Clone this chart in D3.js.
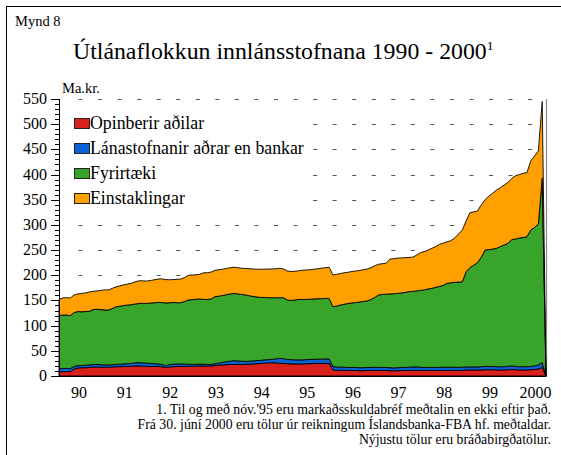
<!DOCTYPE html>
<html>
<head>
<meta charset="utf-8">
<script src="https://cdn.jsdelivr.net/npm/d3@7"></script>
<style>
  body { margin: 0; background: #fff; }
</style>
</head>
<body>
<svg id="chart" width="561" height="455"></svg>
<script>
// monthly values, Dec 1989 .. Aug 2000 (last point closes to 0)
const opinberir = [8.6,8.5,8.7,8.6,14,16,16.5,16.5,17,18,18,17.5,17.5,17.5,18,18.5,18.5,19,19,19.5,20,20,19.5,19.5,19,19,19,18.5,17,18,18.5,19,19,19,19.5,19.5,19.5,20,20,20,20,21,21.5,22,22.5,23,23,23,23,23,23.5,24,24.5,25,25.5,26,26.5,26,25,25,24.5,24,24,24,24,24.5,24.5,25,25,25,25,25,12,11.5,11.5,11,11,11,11,10.5,10.5,11,11,11,11,11,11,10.5,10.5,10.5,11,11,11,11.5,11.5,11,11,11,11,11,11,11,11,11,11,11,11.5,12,12,12,12,12,12.5,12.5,12.5,12,12,12,12.5,13,12.5,12,12,12,12.5,13,14,17,0]
const lanastofnanir = [6.4,6.5,6.3,6.2,5,4.5,4.5,5,5,5,5,5,4.5,4.5,4.5,4.5,5,5,5.5,5.5,6,6.5,6.5,6,6,5.5,5,4.5,3.5,4.5,5,5,5,4.5,4,3.5,3.5,3.5,3.5,3,3,3.5,4,5,6,6.5,7.5,7,6.5,6,6,6,6,6,6.5,6.5,6.5,8,10,9.5,8.5,8.5,8,8,8,8,8.5,8,8.5,8.5,9,9,6.5,6.5,6,6.5,6,6,6,6,6,6,6,6.5,6,6,6,6,5.5,6,6,6,6.5,6.5,6.5,6.5,6,6,6,6,6,6.5,6.5,6.5,6.5,6,6,6,6,6,6,6.5,6.5,6.5,6.5,6.5,6.5,6.5,6.5,7,6.5,6.5,6.5,6.5,6.5,7,8,9.5,0]
const fyrirtaeki = [105,106,106,105.2,107,107.5,106.5,106.5,106.5,109,109.5,109.5,109,109,111.5,114.5,115,116,116.5,116.5,117,117.5,118.5,118.5,120,121,122,123,124.5,123,122.5,121.5,121.6,124.5,127.5,128.5,129.5,129.5,128.5,129,130,133,133,133,133,133.5,133.5,133,132.5,132,130,128,126.5,125,124,123,122.5,121.5,120.5,121,118,117.5,119,120,120,119.5,119.5,120,120,120,120,120,119.2,121,123.5,125,127,128,129,130.5,131.5,132,135,138.5,144,145,145.5,146.5,147.5,147.5,148,149,150,150,151,152.5,154,155.7,157,159,161,162.5,166.5,167.5,168.5,169.5,169.5,189,197,202,207,217.5,231,232,233,235,238.5,241.5,244.4,251,253,255.5,256.5,258.1,271,275,280,366.1,0]
const einstaklingar = [32,34,34.5,35,35,35,36.5,37,38.5,36,36.5,38,40,40,40,39.5,40.5,41,41.5,42.5,44,45,44.5,44.5,44.5,45.5,46.5,47,46.5,45.5,45.5,46.5,47,47.5,49,49,48.5,49,53,53,53.5,52.5,52.5,52,52,52,52,52,52,52.5,53.5,54.5,55,56,56,57,57,57.5,58.5,57,57.5,57.5,57,57,58,58.5,58.5,59,59.5,60.5,61,62,62.8,63,62.5,62.5,62,62.5,62.5,62.5,63,63.5,63,63,61,61,61.5,69,69.5,70,69.5,69,68,68,71,75,76,77.3,79.5,81,83.5,84,82.5,83.7,88,95.5,103,100.8,109,106,102.6,104,100,106.4,111,115.8,117,119,121.1,121,125.8,126,127.4,127.4,137,142,145,152.4,0]

const seriesNames = ['Opinberir aðilar', 'Lánastofnanir aðrar en bankar', 'Fyrirtæki', 'Einstaklingar']
const seriesColors = ['#d8201c', '#0a64d8', '#38a52a', '#ffa000']
const yearLabels = ['90','91','92','93','94','95','96','97','98','99','2000']
const yTicks = [0,50,100,150,200,250,300,350,400,450,500,550]
const footnotes = [
  "1. Til og með nóv.'95 eru markaðsskuldabréf meðtalin en ekki eftir það.",
  "Frá 30. júní 2000 eru tölur úr reikningum Íslandsbanka-FBA hf. meðtaldar.",
  "Nýjustu tölur eru bráðabirgðatölur."
]

const serif = '"Liberation Serif", "Times New Roman", Times, serif'

var svg = d3.select('#chart')
   .attr('font-family', serif)

// outer frame (runs off the right and bottom of the picture)
svg.append('rect')
   .attr('x', 6.5).attr('y', 6.5)
   .attr('width', 600).attr('height', 500)
   .attr('fill', 'none').attr('stroke', '#000').attr('stroke-width', 1)

svg.append('text').attr('x', 15).attr('y', 26)
   .attr('font-family', serif).attr('font-size', 14.5).text('Mynd 8')

var title = svg.append('text').attr('x', 73).attr('y', 59)
   .attr('font-family', serif).attr('font-size', 23.8)
title.append('tspan').text('Útlánaflokkun innlánsstofnana 1990 - 2000')
title.append('tspan').attr('dy', -9).attr('font-size', 13.5).text('1')

svg.append('text').attr('x', 62).attr('y', 93)
   .attr('font-family', serif).attr('font-size', 14.5).text('Ma.kr.')

var x = d3.scaleLinear().domain([0, opinberir.length - 1]).range([59, 546])
var y = d3.scaleLinear().domain([0, 550]).range([376, 99])

// dashed grid
svg.append('g').selectAll('line')
   .data(yTicks.filter(d => d > 0))
   .enter().append('line')
   .attr('x1', 78.5).attr('x2', 546)
   .attr('y1', d => Math.round(y(d)) + 0.5).attr('y2', d => Math.round(y(d)) + 0.5)
   .attr('stroke', '#555').attr('stroke-width', 1)
   .attr('stroke-dasharray', '4,15.55')

// right frame of plot
svg.append('line')
   .attr('x1', 546.5).attr('x2', 546.5).attr('y1', y(550)).attr('y2', y(0))
   .attr('stroke', '#888').attr('stroke-width', 1.2)

var table = opinberir.map(function(v, i) {
  return { i: i, s0: v, s1: lanastofnanir[i], s2: fyrirtaeki[i], s3: einstaklingar[i] }
})
var stack = d3.stack().keys(['s0','s1','s2','s3'])
var layers = stack(table)

var area = d3.area()
  .x(d => x(d.data.i))
  .y0(d => y(d[0]))
  .y1(d => y(d[1]))

svg.append('g').selectAll('path')
   .data(layers)
   .enter().append('path')
   .attr('d', area)
   .attr('fill', (d, i) => seriesColors[i])
   .attr('stroke', '#000')
   .attr('stroke-width', 0.9)
   .attr('stroke-linejoin', 'round')

// y axis
var yAxis = svg.append('g')
yAxis.append('line')
   .attr('x1', 59.5).attr('x2', 59.5).attr('y1', y(550)).attr('y2', y(0))
   .attr('stroke', '#000')
yAxis.selectAll('.minor')
   .data(d3.range(0, 551, 10))
   .enter().append('line')
   .attr('x1', 55).attr('x2', 59.5)
   .attr('y1', d => Math.round(y(d)) + 0.5).attr('y2', d => Math.round(y(d)) + 0.5)
   .attr('stroke', '#000')
yAxis.selectAll('.major')
   .data(yTicks)
   .enter().append('line')
   .attr('x1', 51).attr('x2', 59.5)
   .attr('y1', d => Math.round(y(d)) + 0.5).attr('y2', d => Math.round(y(d)) + 0.5)
   .attr('stroke', '#000')
yAxis.selectAll('text')
   .data(yTicks)
   .enter().append('text')
   .attr('x', 47).attr('y', d => y(d) + 5)
   .attr('text-anchor', 'end')
   .attr('font-family', serif).attr('font-size', 16)
   .text(d => d)

// x axis
svg.append('line')
   .attr('x1', 59).attr('x2', 546.5).attr('y1', 376.5).attr('y2', 376.5)
   .attr('stroke', '#000')
svg.append('g').selectAll('text')
   .data(yearLabels)
   .enter().append('text')
   .attr('x', (d, k) => x(12 * k + 5.26))
   .attr('y', 398)
   .attr('text-anchor', 'middle')
   .attr('font-family', serif).attr('font-size', 16)
   .text(d => d)

// legend, white box hides the grid behind it
svg.append('rect')
   .attr('x', 70).attr('y', 108).attr('width', 241).attr('height', 102)
   .attr('fill', '#fff')
var legend = svg.append('g').selectAll('g')
   .data(seriesNames)
   .enter().append('g')
   .attr('transform', (d, i) => 'translate(74,' + (118 + i * 25) + ')')
legend.append('rect')
   .attr('x', 0.5).attr('y', 0.5).attr('width', 15).attr('height', 10)
   .attr('fill', (d, i) => seriesColors[i])
   .attr('stroke', '#222')
legend.append('text')
   .attr('x', 16).attr('y', 11)
   .attr('font-family', serif).attr('font-size', 17.8)
   .text(d => d)

svg.append('g').selectAll('text')
   .data(footnotes)
   .enter().append('text')
   .attr('x', 551).attr('y', (d, i) => 414 + i * 15)
   .attr('text-anchor', 'end')
   .attr('font-family', serif).attr('font-size', 13.8)
   .text(d => d)
</script>
</body>
</html>
